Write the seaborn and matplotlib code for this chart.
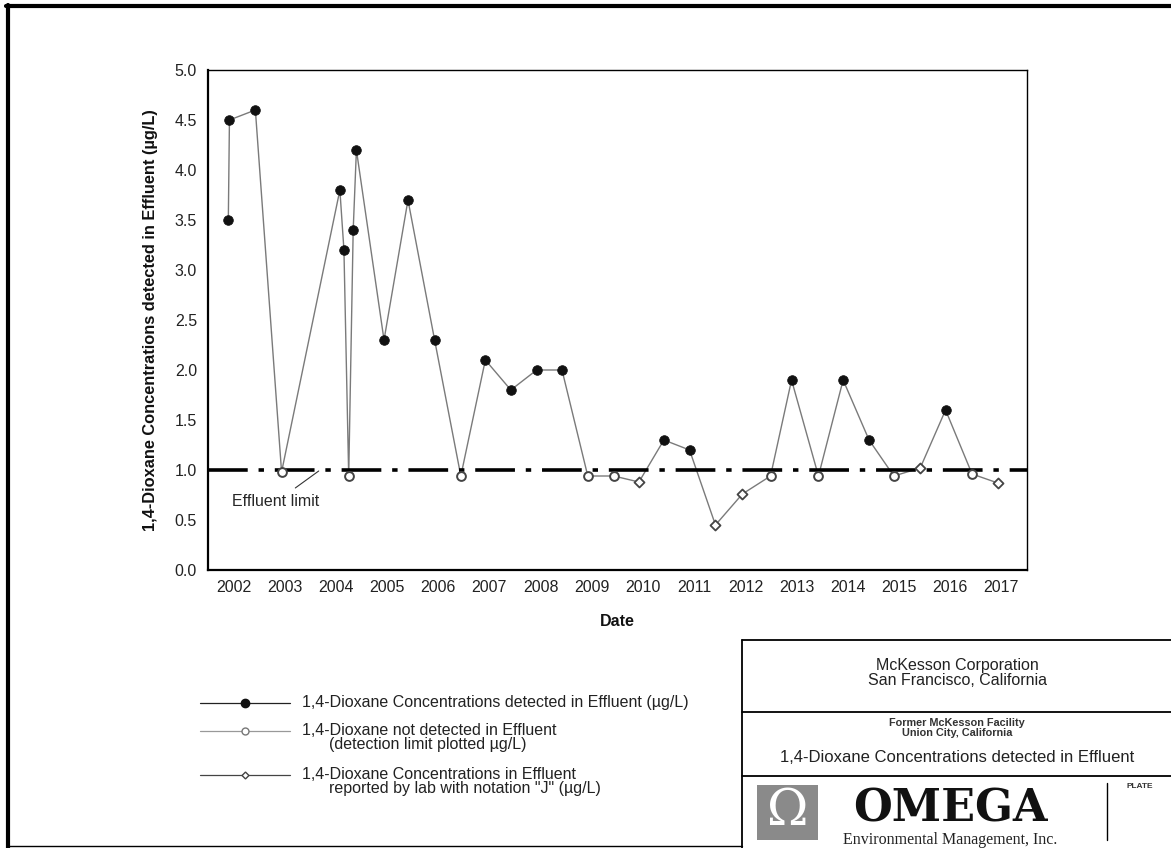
import matplotlib
matplotlib.use("Agg")
import matplotlib.pyplot as plt
import matplotlib.dates as mdates
from matplotlib.lines import Line2D
from matplotlib.patches import Rectangle
import seaborn as sns
import pandas as pd

# ---------------- data ----------------
sample_dates = [
    "2002-05-26", "2002-06-03", "2002-12-05", "2003-06-10", "2004-07-30",
    "2004-08-28", "2004-10-01", "2004-11-02", "2004-11-25", "2005-06-10",
    "2005-11-28", "2006-06-06", "2006-12-10", "2007-06-03", "2007-12-02",
    "2008-06-03", "2008-12-01", "2009-06-03", "2009-12-05", "2010-06-03",
    "2010-11-28", "2011-05-30", "2011-12-01", "2012-06-10", "2012-12-28",
    "2013-05-27", "2013-12-05", "2014-05-30", "2014-12-01", "2015-05-27",
    "2015-12-01", "2016-05-30", "2016-12-05", "2017-06-07",
]
concentrations = [
    3.5, 4.5, 4.6, 0.98, 3.8,
    3.2, 0.94, 3.4, 4.2, 2.3,
    3.7, 2.3, 0.94, 2.1, 1.8,
    2.0, 2.0, 0.94, 0.94, 0.88,
    1.3, 1.2, 0.45, 0.76, 0.94,
    1.9, 0.94, 1.9, 1.3, 0.94,
    1.02, 1.6, 0.96, 0.87,
]
# D = detected, ND = not detected (detection limit), J = lab notation "J"
result_flags = [
    "D", "D", "D", "ND", "D",
    "D", "ND", "D", "D", "D",
    "D", "D", "ND", "D", "D",
    "D", "D", "ND", "ND", "J",
    "D", "D", "J", "J", "ND",
    "D", "ND", "D", "D", "ND",
    "J", "D", "ND", "J",
]
effluent_limit = 1.0
year_labels = [str(y) for y in range(2002, 2018)]
y_ticks = [0.0, 0.5, 1.0, 1.5, 2.0, 2.5, 3.0, 3.5, 4.0, 4.5, 5.0]

legend_labels = [
    "1,4-Dioxane Concentrations detected in Effluent (\u00b5g/L)",
    "1,4-Dioxane not detected in Effluent\n      (detection limit plotted \u00b5g/L)",
    "1,4-Dioxane Concentrations in Effluent\n      reported by lab with notation \"J\" (\u00b5g/L)",
]

df = pd.DataFrame({
    "date": pd.to_datetime(sample_dates),
    "value": concentrations,
    "flag": result_flags,
})

# ---------------- figure ----------------
sns.set_theme(style="white")
plt.rcParams["font.family"] = ["Liberation Sans", "DejaVu Sans"]

W, H = 1171, 848
fig = plt.figure(figsize=(W / 100, H / 100), dpi=100)
fig.patch.set_facecolor("white")

ax = fig.add_axes([208 / W, 1 - 570 / H, (1027 - 208) / W, (570 - 70) / H])
ax.set_facecolor("white")

line_gray = "#7a7a7a"
sns.lineplot(data=df, x="date", y="value", ax=ax, color=line_gray, lw=1.0,
             sort=False, estimator=None, legend=False, zorder=2)

d = df[df.flag == "D"]
nd = df[df.flag == "ND"]
j = df[df.flag == "J"]
sns.scatterplot(data=d, x="date", y="value", ax=ax, color="#111111",
                edgecolor="#111111", s=48, marker="o", legend=False, zorder=4)
sns.scatterplot(data=nd, x="date", y="value", ax=ax, color="white",
                edgecolor="#444444", linewidth=1.4, s=40, marker="o",
                legend=False, zorder=4)
sns.scatterplot(data=j, x="date", y="value", ax=ax, color="white",
                edgecolor="#444444", linewidth=1.3, s=26, marker="D",
                legend=False, zorder=4)

# effluent limit
ax.axhline(effluent_limit, color="black", lw=2.6, dashes=(11, 3, 1.5, 3), zorder=3)
ax.annotate("Effluent limit",
            xy=(pd.Timestamp("2004-03-01"), effluent_limit - 0.01),
            xytext=(pd.Timestamp("2003-05-01"), 0.68),
            ha="center", va="center", fontsize=11.5,
            arrowprops=dict(arrowstyle="-", color="#333333", lw=0.8,
                            shrinkA=4, shrinkB=0))

# axes limits / ticks
ax.set_ylim(0, 5)
ax.set_yticks(y_ticks)
ax.set_yticklabels([f"{v:.1f}" for v in y_ticks], fontsize=11.5, color="#222222")

ax.set_xlim(pd.Timestamp("2002-01-01"), pd.Timestamp("2018-01-01"))
ax.xaxis.set_major_locator(mdates.YearLocator())
ax.xaxis.set_major_formatter(plt.NullFormatter())
mid_years = [pd.Timestamp(f"{y}-07-02") for y in range(2002, 2018)]
ax.set_xticks(mid_years, minor=True)
ax.set_xticklabels(year_labels, minor=True, fontsize=11.5, color="#222222")
ax.tick_params(axis="x", which="minor", length=0, pad=7)
ax.tick_params(axis="x", which="major", length=5, width=1, color="black",
               direction="out")
ax.tick_params(axis="y", which="major", length=5, width=1, color="black",
               direction="out", pad=3)
for sp in ax.spines.values():
    sp.set_color("black")
    sp.set_linewidth(1.0)
ax.spines["left"].set_linewidth(1.6)
ax.spines["bottom"].set_linewidth(1.6)

ax.set_xlabel("Date", fontsize=11.5, fontweight="bold", labelpad=14, color="#111111")
ax.set_ylabel("1,4-Dioxane Concentrations detected in Effluent (\u00b5g/L)",
              fontsize=11.8, fontweight="bold", labelpad=12, color="#111111")

# ---------------- legend (manual) ----------------
leg_rows = [703, 731, 775]
styles = [
    dict(color="#222222", marker="o", mfc="#111111", mec="#111111", ms=6, lw=0.9),
    dict(color="#999999", marker="o", mfc="white", mec="#777777", ms=5, lw=0.9),
    dict(color="#444444", marker="D", mfc="white", mec="#444444", ms=3.5, lw=0.9),
]
for yr, st, lab in zip(leg_rows, styles, legend_labels):
    yf = 1 - yr / H
    fig.add_artist(Line2D([200 / W, 290 / W], [yf, yf], transform=fig.transFigure,
                          color=st["color"], lw=st["lw"]))
    fig.add_artist(Line2D([245 / W], [yf], transform=fig.transFigure,
                          marker=st["marker"], mfc=st["mfc"], mec=st["mec"],
                          ms=st["ms"], lw=0))
    if "\n" in lab:
        fig.text(302 / W, 1 - (yr - 8) / H, lab, ha="left", va="top",
                 fontsize=11.5, color="#222222", linespacing=0.95)
    else:
        fig.text(302 / W, yf, lab, ha="left", va="center",
                 fontsize=11.5, color="#222222")

# ---------------- title block ----------------
def hline(y, x0, x1, lw=1.3):
    fig.add_artist(Line2D([x0 / W, x1 / W], [1 - y / H, 1 - y / H],
                          transform=fig.transFigure, color="black", lw=lw))

def vline(x, y0, y1, lw=1.3):
    fig.add_artist(Line2D([x / W, x / W], [1 - y0 / H, 1 - y1 / H],
                          transform=fig.transFigure, color="black", lw=lw))

hline(640, 742, W)
hline(712, 742, W)
hline(776, 742, W)
vline(742, 640, H)
vline(1107, 783, 840, lw=1.0)

fig.text(957 / W, 1 - 673 / H, "McKesson Corporation\nSan Francisco, California",
         ha="center", va="center", fontsize=11.5, linespacing=0.95, color="#222222")
fig.text(957 / W, 1 - 728 / H, "Former McKesson Facility\nUnion City, California",
         ha="center", va="center", fontsize=7.8, linespacing=1.0,
         fontweight="bold", color="#333333")
fig.text(957 / W, 1 - 757 / H, "1,4-Dioxane Concentrations detected in Effluent",
         ha="center", va="center", fontsize=12, color="#222222")
fig.text(1140 / W, 1 - 787 / H, "PLATE", ha="center", va="center",
         fontsize=6, fontweight="bold", color="#333333")

# logo
fig.add_artist(Rectangle((757 / W, 1 - 840 / H), 61 / W, 55 / H,
                         transform=fig.transFigure, facecolor="#8a8a8a",
                         edgecolor="none"))
fig.text(787.5 / W, 1 - 811 / H, "\u03a9", ha="center", va="center",
         fontsize=36, color="white", family="DejaVu Serif")
fig.text(950 / W, 1 - 831 / H, "OMEGA", ha="center", va="bottom",
         fontsize=32, fontweight="bold", family="DejaVu Serif", color="#111111")
fig.text(950 / W, 1 - 831.5 / H, "Environmental Management, Inc.",
         ha="center", va="top", fontsize=11.5, family="Liberation Serif",
         color="#222222")

# outer frame
hline(6, 6, W, lw=3)
vline(8, 5, H, lw=3)
hline(846, 8, 742, lw=1.0)

fig.savefig("out.png", dpi=100, facecolor="white")
